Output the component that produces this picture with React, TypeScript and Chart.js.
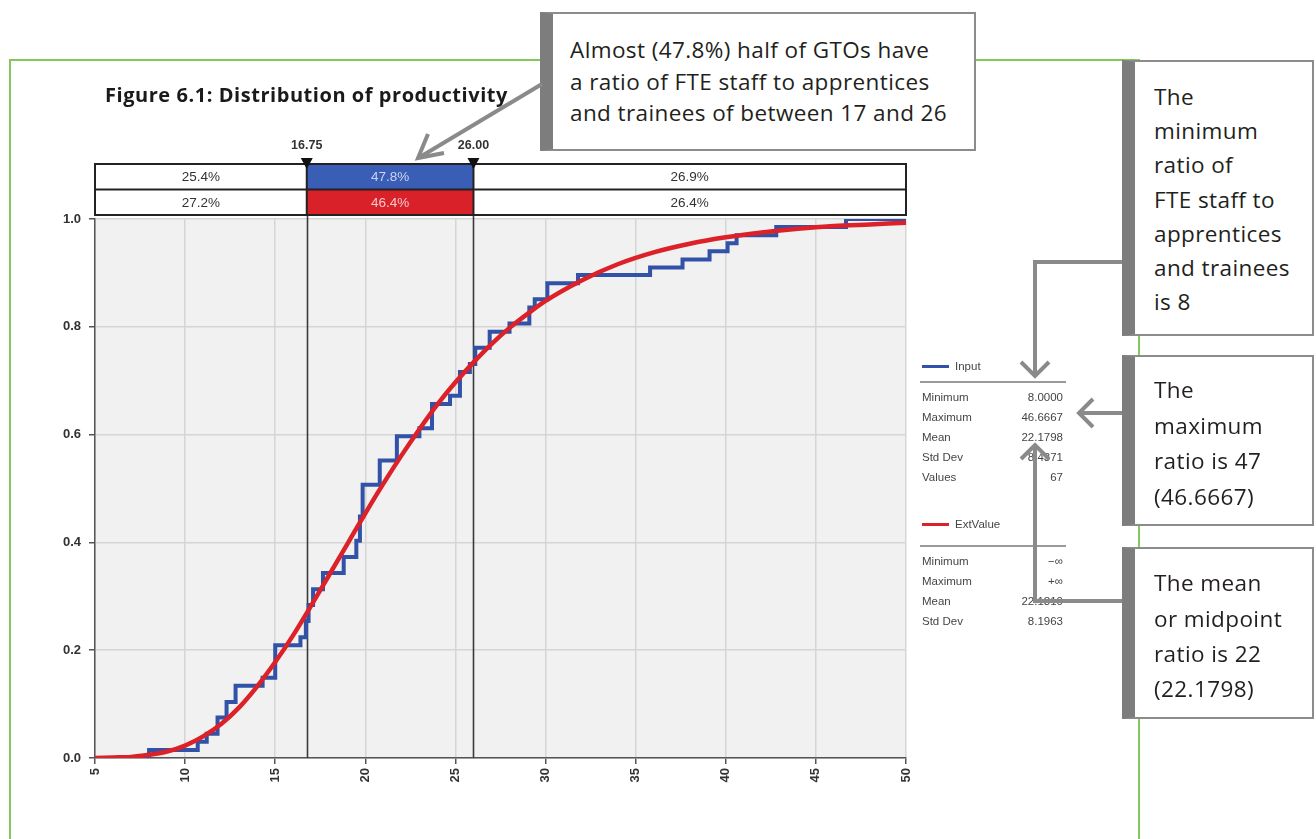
import React, { useEffect, useRef } from "react";
import { Chart, registerables } from "chart.js";
Chart.register(...registerables);

// ---------- data ----------
const xTickValues = [5, 10, 15, 20, 25, 30, 35, 40, 45, 50];
const yTickValues = [0, 0.2, 0.4, 0.6, 0.8, 1.0];

const inputX = [5, 8.0, 10.7, 11.2, 11.8, 12.3, 12.8, 14.3, 15.0, 16.4, 16.7, 16.85, 17.1, 17.65, 18.8, 19.5, 19.7, 19.85, 20.8, 21.75, 23.0, 23.7, 24.7, 25.25, 25.8, 26.1, 26.9, 28.0, 29.1, 29.4, 30.1, 31.8, 35.8, 37.6, 39.1, 40.1, 40.6, 42.8, 46.67, 50];
const inputCum = [0, 0.015, 0.030, 0.045, 0.075, 0.104, 0.134, 0.149, 0.209, 0.224, 0.254, 0.284, 0.313, 0.343, 0.373, 0.403, 0.448, 0.507, 0.552, 0.597, 0.612, 0.657, 0.672, 0.716, 0.731, 0.761, 0.791, 0.806, 0.836, 0.851, 0.881, 0.896, 0.910, 0.925, 0.940, 0.955, 0.970, 0.985, 1.0, 1.0];

// fitted ExtValue cumulative curve
const extX = [5, 6, 7, 8, 9, 10, 11, 12, 13, 14, 15, 16, 17, 18, 19, 20, 21, 22, 23, 24, 25, 26, 27, 28, 29, 30, 32, 34, 36, 38, 40, 42, 44, 46, 48, 50];
const extCum = [0.000, 0.001, 0.002, 0.006, 0.012, 0.023, 0.040, 0.063, 0.094, 0.133, 0.178, 0.228, 0.283, 0.340, 0.397, 0.454, 0.509, 0.561, 0.610, 0.656, 0.697, 0.734, 0.768, 0.798, 0.824, 0.848, 0.886, 0.916, 0.938, 0.954, 0.966, 0.975, 0.982, 0.987, 0.990, 0.993];

const thresholds = [16.75, 26.0];
const thresholdLabels = ["16.75", "26.00"];
const inputShares = ["25.4%", "47.8%", "26.9%"];
const extShares = ["27.2%", "46.4%", "26.4%"];

const inputStatLabels = ["Minimum", "Maximum", "Mean", "Std Dev", "Values"];
const inputStatValues = ["8.0000", "46.6667", "22.1798", "8.4371", "67"];
const extStatLabels = ["Minimum", "Maximum", "Mean", "Std Dev"];
const extStatValues = ["\u2212\u221e", "+\u221e", "22.1810", "8.1963"];

const titleText = "Figure 6.1: Distribution of productivity";
const callout1 = ["Almost (47.8%) half of GTOs have", "a ratio of FTE staff to apprentices", "and trainees of between 17 and 26"];
const callout2 = ["The", "minimum", "ratio of", "FTE staff to", "apprentices", "and trainees", "is 8"];
const callout3 = ["The", "maximum", "ratio is 47", "(46.6667)"];
const callout4 = ["The mean", "or midpoint", "ratio is 22", "(22.1798)"];

// ---------- styles ----------
const BLUE = "#3152a6";
const RED = "#dc2128";
const BLUE_FILL = "#3a5db6";
const RED_FILL = "#d92129";
const GREY_ARROW = "#8a8a8a";
const GREEN = "#84c75a";
const AXIS_FONT = "'Liberation Sans', Arial, sans-serif";
const CALLOUT_FONT = "'Open Sans', 'Noto Sans', sans-serif";

const bgPlugin = {
  id: "plotBg",
  beforeDraw(chart: any) {
    const { ctx, chartArea } = chart;
    ctx.save();
    ctx.fillStyle = "#f1f1f1";
    ctx.fillRect(chartArea.left, chartArea.top, chartArea.right - chartArea.left, chartArea.bottom - chartArea.top);
    ctx.restore();
  },
  beforeDatasetsDraw(chart: any) {
    const { ctx, chartArea, scales } = chart;
    const rowH = 25.5;
    const topY = chartArea.top - 4 - 2 * rowH;
    ctx.save();
    ctx.strokeStyle = "#3a3a3a";
    ctx.lineWidth = 1.6;
    thresholds.forEach((t) => {
      const px = Math.round(scales.x.getPixelForValue(t)) + 0.5;
      ctx.beginPath();
      ctx.moveTo(px, topY);
      ctx.lineTo(px, chartArea.bottom);
      ctx.stroke();
    });
    ctx.restore();
  },
};

const barsPlugin = {
  id: "shareBars",
  afterDraw(chart: any) {
    const { ctx, chartArea, scales } = chart;
    const rowH = 25.5;
    const bottom = chartArea.top - 4;
    const top1 = bottom - 2 * rowH;
    const top2 = bottom - rowH;
    const left = chartArea.left;
    const right = chartArea.right;
    const p = thresholds.map((t) => scales.x.getPixelForValue(t));
    const edges = [left, p[0], p[1], right];
    ctx.save();
    ctx.fillStyle = "#ffffff";
    ctx.fillRect(left, top1, right - left, 2 * rowH);
    ctx.fillStyle = BLUE_FILL;
    ctx.fillRect(p[0], top1, p[1] - p[0], rowH);
    ctx.fillStyle = RED_FILL;
    ctx.fillRect(p[0], top2, p[1] - p[0], rowH);
    ctx.strokeStyle = "#222";
    ctx.lineWidth = 2;
    ctx.strokeRect(left, top1, right - left, 2 * rowH);
    ctx.beginPath();
    ctx.moveTo(left, top2);
    ctx.lineTo(right, top2);
    p.forEach((x) => {
      ctx.moveTo(x, top1);
      ctx.lineTo(x, bottom);
    });
    ctx.stroke();

    ctx.font = `13.5px ${AXIS_FONT}`;
    ctx.textAlign = "center";
    ctx.textBaseline = "middle";
    for (let i = 0; i < 3; i++) {
      const cx = (edges[i] + edges[i + 1]) / 2;
      ctx.fillStyle = i === 1 ? "#c9d5f2" : "#333";
      ctx.fillText(inputShares[i], cx, top1 + rowH / 2 + 1);
      ctx.fillStyle = i === 1 ? "#f6c9c9" : "#333";
      ctx.fillText(extShares[i], cx, top2 + rowH / 2 + 1);
    }

    // markers
    p.forEach((x, i) => {
      ctx.fillStyle = "#111";
      ctx.beginPath();
      ctx.moveTo(x - 6, top1 - 6);
      ctx.lineTo(x + 6, top1 - 6);
      ctx.lineTo(x, top1 + 5);
      ctx.closePath();
      ctx.fill();
      ctx.fillStyle = "#333";
      ctx.font = `bold 12.5px ${AXIS_FONT}`;
      ctx.fillText(thresholdLabels[i], x, top1 - 18);
    });
    ctx.restore();
  },
};

function Txt(props: any) {
  const { x, cy, size, lh, children, style } = props;
  const h = lh || size * 1.3;
  return (
    <div
      style={{
        position: "absolute",
        left: x,
        top: cy - h / 2,
        height: h,
        lineHeight: `${h}px`,
        fontSize: size,
        whiteSpace: "nowrap",
        ...style,
      }}
    >
      {children}
    </div>
  );
}

function Callout(props: any) {
  const { left, top, width, height, lines, textX, firstCy, lh, size } = props;
  return (
    <>
      <div
        style={{
          position: "absolute",
          left,
          top,
          width,
          height,
          background: "#fff",
          boxSizing: "border-box",
          borderTop: "2px solid #8c8c8c",
          borderRight: "2px solid #8c8c8c",
          borderBottom: "2px solid #8c8c8c",
          borderLeft: "13px solid #7d7d7d",
        }}
      />
      {lines.map((l: string, i: number) => (
        <Txt key={i} x={textX} cy={firstCy + i * lh} size={size} lh={lh} style={{ fontFamily: CALLOUT_FONT, color: "#231f20", letterSpacing: "0.4px" }}>
          {l}
        </Txt>
      ))}
    </>
  );
}

export default function App() {
  const canvasRef = useRef<HTMLCanvasElement | null>(null);

  useEffect(() => {
    const canvas = canvasRef.current;
    if (!canvas) return;
    const chart = new Chart(canvas, {
      type: "line",
      data: {
        datasets: [
          {
            label: "ExtValue",
            data: extX.map((x, i) => ({ x, y: extCum[i] })),
            borderColor: RED,
            borderWidth: 4.5,
            pointRadius: 0,
            cubicInterpolationMode: "monotone",
            fill: false,
            order: 0,
          },
          {
            label: "Input",
            data: inputX.map((x, i) => ({ x, y: inputCum[i] })),
            borderColor: BLUE,
            borderWidth: 4,
            pointRadius: 0,
            stepped: "before",
            fill: false,
            order: 1,
          },
        ],
      },
      options: {
        animation: false,
        responsive: false,
        devicePixelRatio: 1,
        layout: { padding: { left: 0, top: 219, right: 410, bottom: 0 } },
        plugins: { legend: { display: false }, tooltip: { enabled: false } },
        scales: {
          x: {
            type: "linear",
            min: 5,
            max: 50,
            afterBuildTicks: (s: any) => {
              s.ticks = xTickValues.map((v) => ({ value: v }));
            },
            ticks: {
              minRotation: 90,
              maxRotation: 90,
              padding: 4,
              color: "#333",
              font: { family: AXIS_FONT, size: 13, weight: "bold" },
              callback: (v: any) => String(v),
            },
            grid: { color: "#d5d5d5", lineWidth: 1.5, tickColor: "#555", tickLength: 6 },
            border: { display: true, color: "#555", width: 1.5 },
            afterFit: (s: any) => {
              s.height = 81;
            },
          },
          y: {
            type: "linear",
            min: 0,
            max: 1,
            afterBuildTicks: (s: any) => {
              s.ticks = yTickValues.map((v) => ({ value: v }));
            },
            ticks: {
              padding: 8,
              color: "#333",
              font: { family: AXIS_FONT, size: 13, weight: "bold" },
              callback: (v: any) => Number(v).toFixed(1),
            },
            grid: { color: "#d5d5d5", lineWidth: 1.5, tickColor: "#555", tickLength: 6 },
            border: { display: true, color: "#555", width: 1.5 },
            afterFit: (s: any) => {
              s.width = 95;
            },
          },
        },
      } as any,
      plugins: [bgPlugin, barsPlugin],
    });
    return () => chart.destroy();
  }, []);

  const statLabelStyle = { fontFamily: AXIS_FONT, color: "#454545" };

  return (
    <div style={{ position: "absolute", left: 0, top: 0, width: 1316, height: 839, background: "#fff", overflow: "hidden" }}>
      {/* green frame */}
      <div style={{ position: "absolute", left: 9, top: 59, width: 1131, height: 900, border: `2px solid ${GREEN}`, boxSizing: "border-box" }} />

      <canvas ref={canvasRef} width={1316} height={839} style={{ position: "absolute", left: 0, top: 0, width: 1316, height: 839 }} />

      {/* title */}
      <Txt x={105} cy={95} size={20} style={{ fontFamily: CALLOUT_FONT, fontWeight: 700, color: "#1a1a1a", letterSpacing: "0.55px" }}>
        {titleText}
      </Txt>

      {/* legend */}
      <div style={{ position: "absolute", left: 922, top: 365, width: 27, height: 3, background: BLUE }} />
      <Txt x={955} cy={366} size={11.5} style={statLabelStyle}>Input</Txt>
      <div style={{ position: "absolute", left: 920, top: 381, width: 146, height: 1.5, background: "#9a9a9a" }} />
      {inputStatLabels.map((l, i) => (
        <React.Fragment key={l}>
          <Txt x={922} cy={397 + i * 20} size={11.5} style={statLabelStyle}>{l}</Txt>
          <Txt x={963} cy={397 + i * 20} size={11.5} style={{ ...statLabelStyle, width: 100, textAlign: "right" }}>{inputStatValues[i]}</Txt>
        </React.Fragment>
      ))}
      <div style={{ position: "absolute", left: 922, top: 523, width: 27, height: 3, background: RED }} />
      <Txt x={955} cy={524} size={11.5} style={statLabelStyle}>ExtValue</Txt>
      <div style={{ position: "absolute", left: 920, top: 545, width: 146, height: 1.5, background: "#9a9a9a" }} />
      {extStatLabels.map((l, i) => (
        <React.Fragment key={l}>
          <Txt x={922} cy={561 + i * 20} size={11.5} style={statLabelStyle}>{l}</Txt>
          <Txt x={963} cy={561 + i * 20} size={11.5} style={{ ...statLabelStyle, width: 100, textAlign: "right" }}>{extStatValues[i]}</Txt>
        </React.Fragment>
      ))}

      {/* callouts */}
      <Callout left={540} top={12} width={436} height={139} lines={callout1} textX={570} firstCy={50} lh={31.5} size={22.5} />
      <Callout left={1122} top={60} width={192} height={276} lines={callout2} textX={1154} firstCy={97} lh={34.2} size={22.5} />
      <Callout left={1122} top={355} width={192} height={171} lines={callout3} textX={1154} firstCy={390} lh={35.5} size={22.5} />
      <Callout left={1122} top={547} width={192} height={172} lines={callout4} textX={1154} firstCy={583} lh={35.3} size={22.5} />

      {/* arrows */}
      <svg width={1316} height={839} style={{ position: "absolute", left: 0, top: 0, pointerEvents: "none" }}>
        <g stroke={GREY_ARROW} strokeWidth={4} fill="none" strokeLinejoin="miter">
          <line x1={542} y1={84} x2={420} y2={157} />
          <polyline points="428,134 418,158 444,153" />
          <polyline points="1122,262 1035,262 1035,376" />
          <polyline points="1021,362 1035,376 1049,362" />
          <line x1={1122} y1={413} x2={1079} y2={413} />
          <polyline points="1093,399 1079,413 1093,427" />
          <polyline points="1122,601 1035,601 1035,445" />
          <polyline points="1021,459 1035,445 1049,459" />
        </g>
      </svg>
    </div>
  );
}
